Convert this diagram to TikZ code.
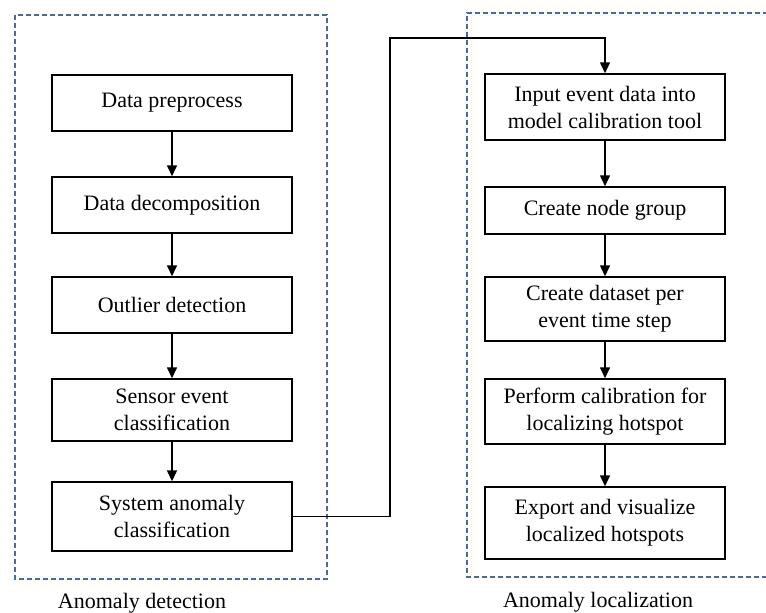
\documentclass[tikz,border=0pt]{standalone}
\usepackage{fontspec}
\setmainfont{Liberation Serif}
\usepackage{tikz}
\usetikzlibrary{arrows.meta,positioning}
\definecolor{groupblue}{HTML}{4C68A4}

\begin{document}
\begin{tikzpicture}[
        x=1pt, y=-1pt,
        font=\fontsize{22}{27}\selectfont,
        procbox/.style={
            draw,
            line width=1.4pt,
            minimum width=240pt,
            align=center,
            inner sep=3pt
        },
        groupbox/.style={
            draw=groupblue,
            line width=1.2pt,
            dash pattern=on 5pt off 3pt
        },
        arrow/.style={
            -{Triangle[length=11pt,width=10pt]},
            line width=1.4pt
        }
    ]

        \useasboundingbox (0,0) rectangle (766,613);

        % Khung nhóm (khung phải bị cắt ở mép)
        \draw[groupbox] (15,15) rectangle (327,579);
        \draw[groupbox] (775,577) -- (467,577) -- (467,13) -- (775,13);

        % Cột trái: phát hiện
        \node[procbox,minimum height=56pt] (prep)    at (172,103)   {Data preprocess};
        \node[procbox,minimum height=56pt] (decomp)  at (172,205)   {Data decomposition};
        \node[procbox,minimum height=56pt] (outlier) at (172,305)   {Outlier detection};
        \node[procbox,minimum height=62pt] (sensor)  at (172,410)   {Sensor event\\classification};
        \node[procbox,minimum height=69pt] (system)  at (172,516.5) {System anomaly\\classification};

        % Cột phải: định vị
        \node[procbox,minimum height=66pt] (input)   at (605,107)   {Input event data into\\model calibration tool};
        \node[procbox,minimum height=47pt] (group)   at (605,210.5) {Create node group};
        \node[procbox,minimum height=64pt] (dataset) at (605,309)   {Create dataset per\\event time step};
        \node[procbox,minimum height=65pt] (calib)   at (605,411.5) {Perform calibration for\\localizing hotspot};
        \node[procbox,minimum height=72pt] (export)  at (605,523)   {Export and visualize\\localized hotspots};

        % Nhãn dưới khung
        \node (detlabel) at (142,603) {Anomaly detection};
        \node (loclabel) at (598,602) {Anomaly localization};

        % Mũi tên cột trái
        \draw[arrow] (prep) -- (decomp);
        \draw[arrow] (decomp) -- (outlier);
        \draw[arrow] (outlier) -- (sensor);
        \draw[arrow] (sensor) -- (system);

        % Nối hai cột
        \coordinate (turnlow)  at (390,516.5);
        \coordinate (turnhigh) at (390,38);
        \draw[arrow] (system.east) -- (turnlow) -- (turnhigh) -| (input.north);

        % Mũi tên cột phải
        \draw[arrow] (input) -- (group);
        \draw[arrow] (group) -- (dataset);
        \draw[arrow] (dataset) -- (calib);
        \draw[arrow] (calib) -- (export);

    \end{tikzpicture}
\end{document}
